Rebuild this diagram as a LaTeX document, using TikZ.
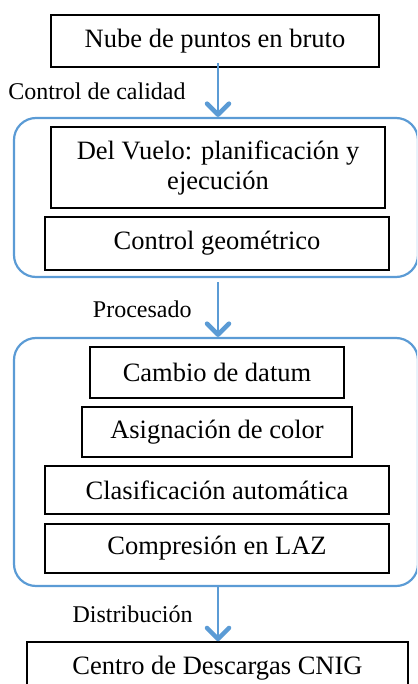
\documentclass[tikz,border=0pt]{standalone}
\usepackage{fontspec}
\setmainfont{Liberation Serif}
\usetikzlibrary{positioning,arrows.meta}
\definecolor{flowBlue}{RGB}{91,155,213}

\begin{document}
\begin{tikzpicture}[
  x=1pt, y=-1pt,
  procBox/.style={draw, line width=1.6pt, inner sep=0pt, align=center,
                  font=\fontsize{26.5}{30}\selectfont},
  groupBox/.style={draw=flowBlue, line width=2.2pt, rounded corners=22pt},
  flowArrow/.style={draw=flowBlue, line width=2.8pt,
                    -{Straight Barb[length=11pt,width=22pt,line width=4.5pt,round]}},
  flowLabel/.style={font=\fontsize{24}{28}\selectfont, inner sep=0pt}
]
  \useasboundingbox (0,0) rectangle (417,684);
  \clip (0,0) rectangle (417,684);
  \coordinate (axis) at (218,0);

  % raw cloud
  \node[procBox, minimum width=328pt, minimum height=52pt] (raw) at (215,41)
    {Nube de puntos en bruto};

  % quality control
  \node[groupBox, minimum width=404pt, minimum height=159pt] (grpQC) at (216,197.5) {};
  \node[procBox, minimum width=334pt, minimum height=81pt] (vuelo) at (218,167.5)
    {Del Vuelo: planificación y\\ejecución};
  \node[procBox, minimum width=344pt, minimum height=53pt] (geom) at (217,243.5)
    {Control geométrico};

  % processing
  \node[groupBox, minimum width=404pt, minimum height=248pt] (grpProc) at (216,462) {};
  \node[procBox, minimum width=254pt, minimum height=51pt] (datum) at (217,372.5)
    {Cambio de datum};
  \node[procBox, minimum width=270pt, minimum height=50pt] (color) at (217,432)
    {Asignación de color};
  \node[procBox, minimum width=344pt, minimum height=48pt] (clasif) at (217,490)
    {Clasificación automática};
  \node[procBox, minimum width=344pt, minimum height=49pt] (laz) at (217,548.5)
    {Compresión en LAZ};

  % distribution
  \node[procBox, minimum width=381pt, minimum height=52pt] (cnig) at (217.5,668)
    {Centro de Descargas CNIG};

  \draw[flowArrow] ([yshift=5pt]raw.south -| axis) -- node[flowLabel, left=31pt, yshift=-1pt] (lblQC)
    {Control de calidad} (grpQC.north -| axis);
  \draw[flowArrow] ([yshift=-4pt]grpQC.south -| axis) -- node[flowLabel, left=25pt] (lblProc)
    {Procesado} (grpProc.north -| axis);
  \draw[flowArrow] (grpProc.south -| axis) -- node[flowLabel, left=24pt] (lblDist)
    {Distribución} (cnig.north -| axis);
\end{tikzpicture}
\end{document}
